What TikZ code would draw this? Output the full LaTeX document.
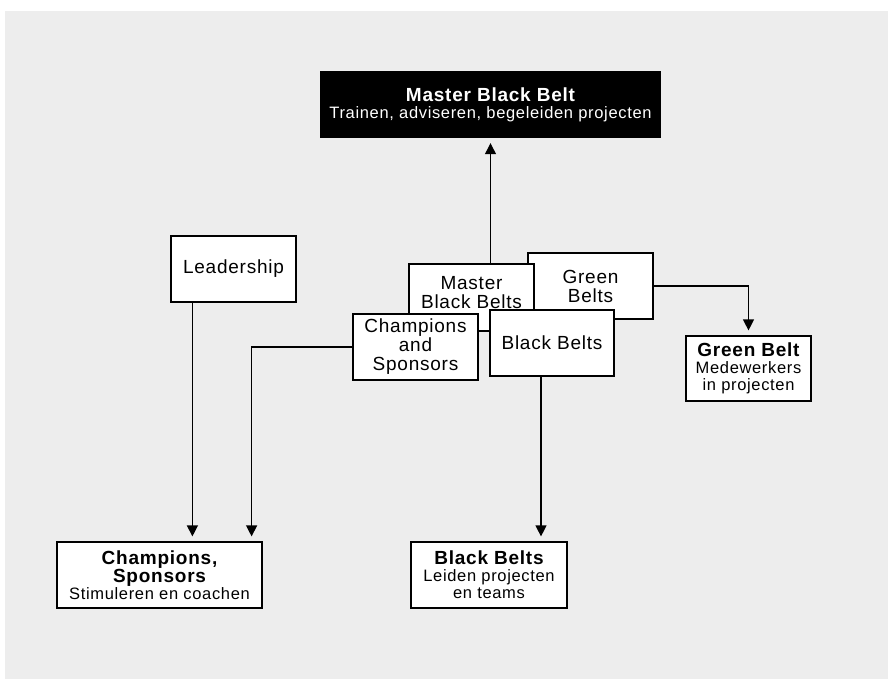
\documentclass[tikz,border=0pt]{standalone}
\usepackage{fontspec}
\setmainfont[LetterSpace=4]{Liberation Sans}
\usetikzlibrary{positioning,calc,arrows.meta}
\definecolor{bggray}{HTML}{EDEDED}

\newcommand{\bigtxt}{\fontsize{19}{19}\selectfont}
\newcommand{\subtxt}{\fontsize{16.5}{17}\selectfont}

\tikzset{
  belt/.style={draw, fill=white, line width=1.2pt, align=center,
    minimum width=125pt, minimum height=66pt, inner sep=2pt, font=\bigtxt},
  role/.style={belt, font=\subtxt},
  topbox/.style={fill=black, text=white, align=center,
    minimum width=341pt, minimum height=67pt, inner sep=2pt, font=\subtxt},
  arr/.style={-{Triangle[width=11pt,length=11pt]}, line width=1.2pt, shorten >=5pt}
}

\begin{document}
\begin{tikzpicture}[x=1pt, y=-1pt]
    % background
    \fill[white] (0,0) rectangle (888,679);
    \fill[bggray] (5,11) rectangle (888,679);

    \node[topbox] (mbb) at (490.5,104.5)
        {{\bigtxt\bfseries Master Black Belt}\\Trainen, adviseren, begeleiden projecten};

    \node[belt] (leader) at (233.5,269) {Leadership};

    % overlapping role boxes
    \node[belt] (gbs) at (590.5,286) {Green\\Belts};
    \node[belt, minimum height=67pt] (mbbs) at (471.5,297.5) {Master\\Black Belts\\[-8pt]\mbox{}};
    \node[belt] (cands) at (415.5,347) {Champions\\and\\Sponsors};
    \node[belt, minimum width=124pt] (bbs) at (552,343) {Black Belts};

    % role descriptions
    \node[role, minimum width=205pt] (champ) at (159.5,575)
        {{\bigtxt\bfseries Champions,}\\{\bigtxt\bfseries Sponsors}\\Stimuleren en coachen};
    \node[role, minimum width=156pt] (bbot) at (489,575)
        {{\bigtxt\bfseries Black Belts}\\Leiden projecten\\en teams};
    \node[role, minimum height=65pt] (gbot) at (748.5,368.5)
        {{\bigtxt\bfseries Green Belt}\\Medewerkers\\in projecten};

    % connectors
    \draw[arr] (mbb.south |- mbbs.north) -- (mbb.south);
    \coordinate (ldown) at ($(leader.south west)+(22,0)$);
    \draw[arr] (ldown) -- (ldown |- champ.north);
    \coordinate (cdown) at ($(champ.north east)+(-11,0)$);
    \draw[arr] (cands.west) -| (cdown);
    \coordinate (bdown) at ($(bbs.south)+(-11,0)$);
    \draw[arr] (bdown) -- (bdown |- bbot.north);
    \draw[arr] (gbs.east) -| (gbot.north);
\end{tikzpicture}
\end{document}
